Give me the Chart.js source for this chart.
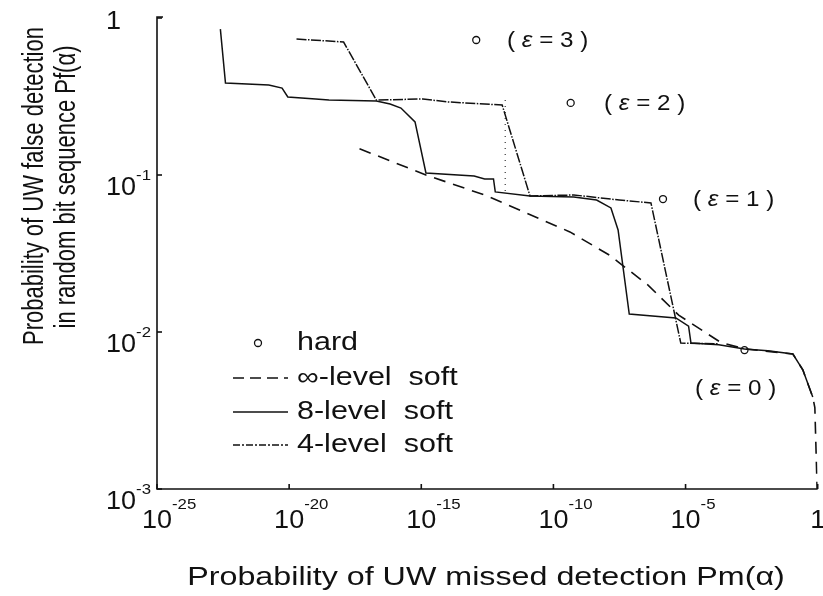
<!DOCTYPE html>
<html>
<head>
<meta charset="utf-8">
<script src="https://cdn.jsdelivr.net/npm/chart.js@4/dist/chart.umd.min.js"></script>
<style>
  html, body { margin: 0; padding: 0; background: #fff; }
  #wrap { width: 823px; height: 596px; }
</style>
</head>
<body>
<div id="wrap"><canvas id="uwChart" width="823" height="596"></canvas></div>
<script>
// tick exponents
const xTickExps = [-25, -20, -15, -10, -5, 0];
const yTickExps = [-3, -2, -1, 0];

// 8-level soft decision (solid)
const level8X = [2.5e-23, 3.9e-23, 1.7e-21, 5.4e-21, 8.9e-21, 1.0e-19, 3.2e-19, 2.0e-17, 6.6e-17, 1.7e-16,
  5.8e-16, 1.5e-15, 1.0e-13, 2.5e-13, 5.4e-13, 6.3e-13, 1.3e-11, 5.9e-10, 4.3e-9, 1.5e-8,
  2.8e-8, 7.4e-8, 4.3e-6, 1.3e-5, 1.6e-5, 1.8e-4, 1.7e-3, 1.3e-2, 0.115, 0.275, 0.65];
const level8Y = [0.85, 0.385, 0.374, 0.358, 0.314, 0.305, 0.30, 0.296, 0.283, 0.267,
  0.218, 0.103, 0.0986, 0.0944, 0.0944, 0.078, 0.0735, 0.0724, 0.0693, 0.0617,
  0.0447, 0.0130, 0.0123, 0.0109, 0.0085, 0.0083, 0.0078, 0.0076, 0.00724, 0.00573, 0.00385];

// 4-level soft decision (dash-dot)
const level4X = [1.9e-20, 1.15e-18, 2.0e-17, 1.15e-15, 1.0e-14, 1.15e-12, 1.3e-11, 5.9e-10, 3.1e-8, 4.9e-7, 6.6e-6, 1.8e-4];
const level4Y = [0.735, 0.703, 0.30, 0.305, 0.292, 0.279, 0.0735, 0.0746, 0.0693, 0.0664, 0.0085, 0.0084];

// infinite-level soft decision (dashed)
const levelInfX = [4.6e-18, 1.5e-15, 2.5e-13, 7.8e-12, 4.2e-10, 1.3e-8, 3.8e-7, 5.5e-6, 2.1e-4, 1.7e-3, 0.115, 0.275, 0.65, 0.78, 0.95];
const levelInfY = [0.147, 0.100, 0.0746, 0.0581, 0.0434, 0.0309, 0.0199, 0.0128, 0.0086, 0.0078, 0.00724, 0.00573, 0.00385, 0.0033, 0.001];

// hard decision points, eps = 3, 2, 1, 0
const hardEps = [3, 2, 1, 0];
const hardX = [1.2e-13, 4.5e-10, 1.4e-6, 1.7e-3];
const hardY = [0.724, 0.288, 0.0703, 0.00767];

// dotted vertical marker
const dotX = [1.5e-12, 1.5e-12];
const dotY = [0.30, 0.078];

const FONT = '"Liberation Sans", Arial, Helvetica, sans-serif';

function pts(xs, ys) {
    return xs.map((x, i) => ({ x: x, y: ys[i] }));
}

function stretchText(ctx, text, x, y, size, sx, align, style) {
    ctx.save();
    ctx.translate(x, y);
    ctx.scale(sx, 1);
    ctx.font = (style || "") + " " + size + "px " + FONT;
    ctx.textAlign = align || "left";
    ctx.fillText(text, 0, 0);
    ctx.restore();
}

// "( ε = n )" with italic epsilon
function epsLabel(ctx, n, x, y) {
    const sx = 1.1;
    const parts = [["( ", ""], ["ε", "italic"], [" = " + n + " )", ""]];
    let cx = x;
    ctx.save();
    ctx.textBaseline = "middle";
    parts.forEach(function (p) {
        ctx.font = p[1] + " 22px " + FONT;
        const w = ctx.measureText(p[0]).width * sx;
        stretchText(ctx, p[0], cx, y, 22, sx, "left", p[1]);
        cx += w;
    });
    ctx.restore();
}

const decorPlugin = {
    id: "decor",
    afterDraw: function (chart) {
        const ctx = chart.ctx;
        const area = chart.chartArea;
        const xs = chart.scales.x;
        const ys = chart.scales.y;
        ctx.save();
        ctx.strokeStyle = "#111";
        ctx.fillStyle = "#111";
        ctx.lineWidth = 1.6;
        ctx.setLineDash([]);

        // axes
        ctx.beginPath();
        ctx.moveTo(area.left + 6, area.top - 1);
        ctx.lineTo(area.left, area.top - 1);
        ctx.lineTo(area.left, area.bottom);
        ctx.lineTo(area.right, area.bottom);
        ctx.stroke();

        // x ticks and labels
        ctx.textBaseline = "alphabetic";
        xTickExps.forEach(function (k) {
            const px = xs.getPixelForValue(Math.pow(10, k));
            ctx.beginPath();
            ctx.moveTo(px, area.bottom);
            ctx.lineTo(px, area.bottom - 5);
            ctx.stroke();
            if (k === 0) {
                stretchText(ctx, "1", px, 528, 25, 1.08, "center");
            } else {
                ctx.font = "25px " + FONT;
                const w = ctx.measureText("10").width * 1.08;
                stretchText(ctx, "10", px, 528, 25, 1.08, "center");
                stretchText(ctx, "-" + Math.abs(k), px + w / 2, 509, 15, 1.12, "left");
            }
        });

        // y ticks and labels
        yTickExps.forEach(function (k) {
            const py = ys.getPixelForValue(Math.pow(10, k));
            ctx.beginPath();
            ctx.moveTo(area.left, py);
            ctx.lineTo(area.left + 5, py);
            ctx.stroke();
            if (k === 0) {
                stretchText(ctx, "1", 121, py + 11, 25, 1.08, "right");
            } else {
                ctx.font = "15px " + FONT;
                const ws = ctx.measureText("-" + Math.abs(k)).width * 1.12;
                stretchText(ctx, "-" + Math.abs(k), 151, py + 5, 15, 1.12, "right");
                stretchText(ctx, "10", 151 - ws, py + 20, 25, 1.08, "right");
            }
        });

        // axis titles
        stretchText(ctx, "Probability of UW missed detection Pm(α)", 486, 585, 25, 1.29, "center");
        [["Probability of UW false detection", 35, 186], ["in random bit sequence Pf(α)", 67, 187]].forEach(function (t) {
            ctx.save();
            ctx.translate(t[1], t[2]);
            ctx.rotate(-Math.PI / 2);
            ctx.scale(1, 1.3);
            ctx.font = "22px " + FONT;
            ctx.textAlign = "center";
            ctx.textBaseline = "middle";
            ctx.fillText(t[0], 0, 0);
            ctx.restore();
        });

        // epsilon annotations
        epsLabel(ctx, 3, 507, 41);
        epsLabel(ctx, 2, 604, 104);
        epsLabel(ctx, 1, 693, 200);
        epsLabel(ctx, 0, 695, 389);

        // legend
        const rows = [
            { y: 343, text: "hard", kind: "circle" },
            { y: 378, text: "∞-level  soft", dash: [11, 6] },
            { y: 412, text: "8-level  soft", dash: [] },
            { y: 445, text: "4-level  soft", dash: [7, 2, 2, 2] },
        ];
        rows.forEach(function (r) {
            ctx.lineWidth = 1.3;
            if (r.kind === "circle") {
                ctx.setLineDash([]);
                ctx.beginPath();
                ctx.arc(258, r.y, 3.5, 0, Math.PI * 2);
                ctx.stroke();
            } else {
                ctx.setLineDash(r.dash);
                ctx.beginPath();
                ctx.moveTo(233, r.y);
                ctx.lineTo(288, r.y);
                ctx.stroke();
            }
            ctx.setLineDash([]);
            ctx.textBaseline = "middle";
            stretchText(ctx, r.text, 297, r.y, 25, 1.22, "left");
        });
        ctx.restore();
    },
};

new Chart(document.getElementById("uwChart").getContext("2d"), {
    type: "scatter",
    data: {
        datasets: [
            {
                label: "∞-level soft",
                data: pts(levelInfX, levelInfY),
                showLine: true,
                borderColor: "#111",
                borderWidth: 1.6,
                borderDash: [12, 8],
                pointRadius: 0,
                tension: 0,
            },
            {
                label: "4-level soft",
                data: pts(level4X, level4Y),
                showLine: true,
                borderColor: "#111",
                borderWidth: 1.5,
                borderDash: [10, 1.5, 1.5, 1.5],
                pointRadius: 0,
            },
            {
                label: "8-level soft",
                data: pts(level8X, level8Y),
                showLine: true,
                borderColor: "#111",
                borderWidth: 1.5,
                pointRadius: 0,
            },
            {
                label: "marker",
                data: pts(dotX, dotY),
                showLine: true,
                borderColor: "#333",
                borderWidth: 1.2,
                borderDash: [1, 5],
                pointRadius: 0,
            },
            {
                label: "hard",
                data: pts(hardX, hardY),
                showLine: false,
                pointRadius: 3.5,
                pointStyle: "circle",
                backgroundColor: "#fff",
                borderColor: "#111",
                borderWidth: 1.3,
            },
        ],
    },
    options: {
        responsive: false,
        animation: false,
        devicePixelRatio: 1,
        layout: { padding: { left: 157, top: 18, right: 0, bottom: 107 } },
        scales: {
            x: { type: "logarithmic", min: 1e-25, max: 1, display: false },
            y: { type: "logarithmic", min: 1e-3, max: 1, display: false },
        },
        plugins: {
            legend: { display: false },
            tooltip: { enabled: false },
        },
    },
    plugins: [decorPlugin],
});
</script>
</body>
</html>
